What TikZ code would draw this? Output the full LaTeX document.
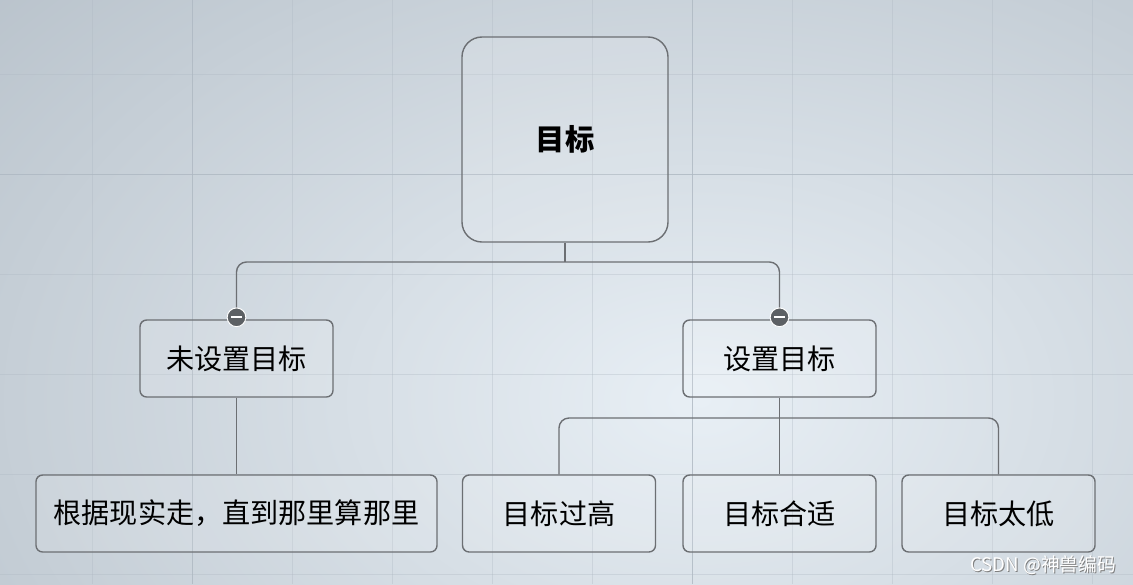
\documentclass[tikz,border=0pt]{standalone}
\usepackage{fontspec}
\newfontfamily\cjk{Noto Sans CJK SC}
\definecolor{bgedge}{HTML}{B4BEC7}
\definecolor{bgmid}{HTML}{E8EFF5}
\definecolor{gridln}{HTML}{AEB8C2}
\definecolor{linkgray}{HTML}{6C6F73}
\definecolor{knob}{HTML}{5C6064}

\tikzset{
  topic/.style={draw=linkgray, line width=1.2pt, rounded corners=0.2cm,
    fill=white, fill opacity=0.12, text opacity=1,
    minimum width=5.79cm, minimum height=2.31cm, font=\cjk\fontsize{24}{28}\selectfont},
  central/.style={topic, rounded corners=0.6cm, minimum width=6.18cm,
    minimum height=6.15cm, font=\cjk\bfseries\fontsize{25}{30}\selectfont},
  link/.style={draw=linkgray, line width=1.2pt, rounded corners=0.3cm},
  collapse/.style={circle, fill=knob, draw=white, line width=0.8pt,
    minimum size=0.56cm, inner sep=0pt,
    path picture={\draw[white, line width=1.6pt]
      ([xshift=-0.17cm]path picture bounding box.center) --
      ([xshift=0.17cm]path picture bounding box.center);}}
}

\begin{document}
\begin{tikzpicture}[x=0.03cm, y=-0.03cm]
  \useasboundingbox (0,0) rectangle (1133,584);
  % Backdrop with grid
  \begin{scope}
    \clip (0,0) rectangle (1133,584);
    \shade[inner color=bgmid, outer color=bgedge] (-350,-300) rectangle (1750,1100);
    \foreach \gx in {92,192,...,1092}
      \draw[gridln, line width=0.5pt, opacity=0.35] (\gx,0) -- (\gx,584);
    \foreach \gy in {74,174,...,574}
      \draw[gridln, line width=0.5pt, opacity=0.35] (0,\gy) -- (1133,\gy);
    \draw[gridln, line width=0.8pt, opacity=0.7] (192,0) -- (192,584);
    \draw[gridln, line width=0.8pt, opacity=0.7] (692,0) -- (692,584);
    \draw[gridln, line width=0.8pt, opacity=0.7] (0,174) -- (1133,174);
  \end{scope}

  % Topics
  \node[central] (goal) at (565,139.5) {目标};
  \node[topic] (unset) at (236.5,358.5) {未设置目标};
  \node[topic] (set) at (779.5,358.5) {设置目标};
  \node[topic, minimum width=12.03cm] (drift) at (236.5,513.5) {根据现实走，直到那里算那里};
  \node[topic] (high) at (559,513.5) {目标过高};
  \node[topic] (fit) at (779.5,513.5) {目标合适};
  \node[topic] (low) at (998.5,513.5) {目标太低};

  % Branches
  \coordinate (j1) at (565,262);
  \coordinate (j2) at (779.5,418);
  \draw[link] (goal.south) -- (j1);
  \draw[link] (unset.north) |- (j1) -| (set.north);
  \draw[link] (unset.south) -- (drift.north);
  \draw[link] (set.south) -- (j2);
  \draw[link] (high.north) |- (j2) -| (low.north);
  \draw[link] (j2) -- (fit.north);

  % Collapse knobs
  \node[collapse] (knobl) at ([yshift=0.06cm]unset.north) {};
  \node[collapse] (knobr) at ([yshift=0.06cm]set.north) {};

  % Watermark
  \node[text=gray, font=\cjk\fontsize{16}{18}\selectfont] (markshadow) at (1044,566) {CSDN @神兽编码};
  \node[text=white, font=\cjk\fontsize{16}{18}\selectfont] (mark) at (1043,565) {CSDN @神兽编码};
\end{tikzpicture}
\end{document}
